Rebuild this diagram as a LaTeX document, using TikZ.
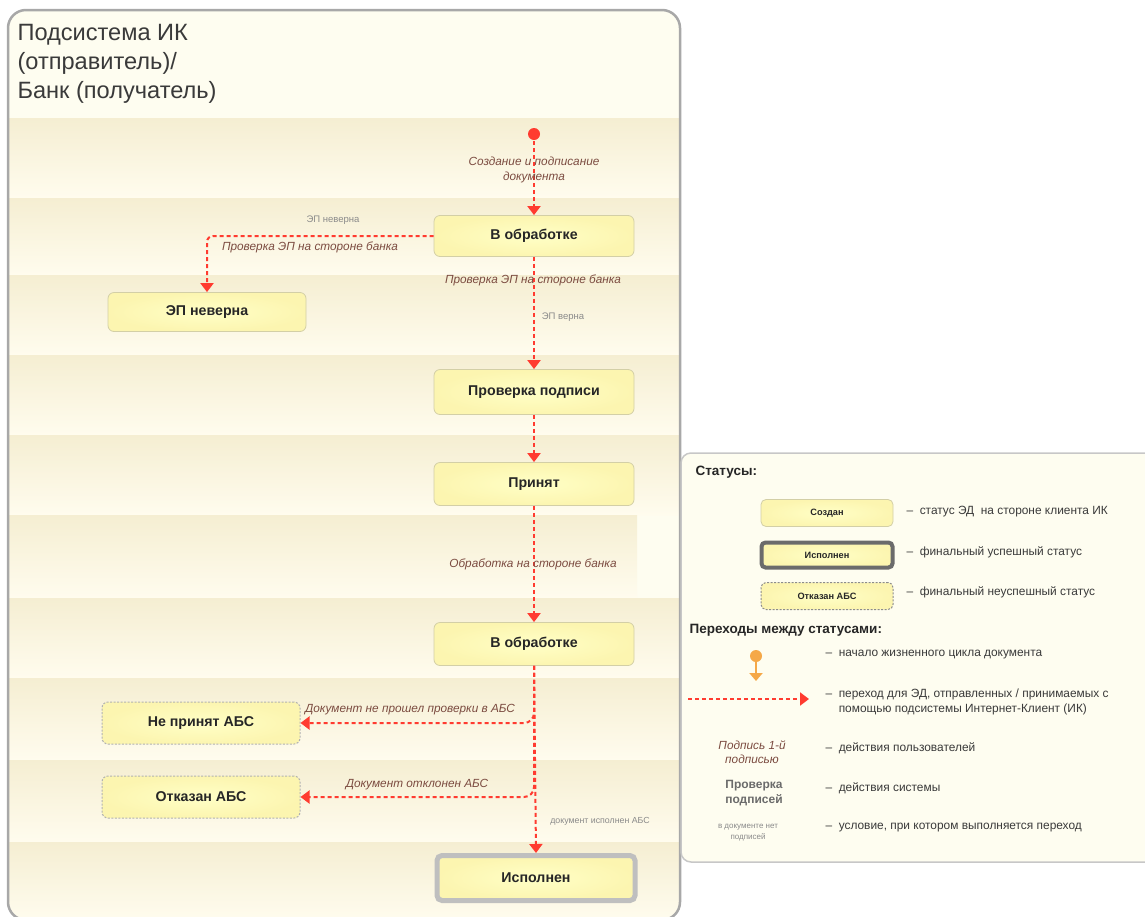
\documentclass[tikz,border=0pt]{standalone}
\usepackage{fontspec}
\setmainfont{Liberation Sans}
\usetikzlibrary{arrows.meta,shadings}
\definecolor{redl}{HTML}{FF3B30}
\definecolor{brownt}{HTML}{7B4B40}
\definecolor{grayt}{HTML}{8A8A8A}
\definecolor{cream}{HTML}{FEFDF0}
\definecolor{bandtop}{HTML}{F5EED2}
\definecolor{bandbot}{HTML}{FFFCEE}
\definecolor{boxin}{HTML}{FFFFC6}
\definecolor{boxout}{HTML}{FCF5B0}
\definecolor{boxdraw}{HTML}{D3CFA6}
\definecolor{frameg}{HTML}{A8A8A8}
\definecolor{textd}{HTML}{3A3A3A}
\definecolor{orangel}{HTML}{F5A848}
\tikzset{
  state/.style={rectangle, rounded corners=6pt, draw=boxdraw, line width=0.8pt,
    inner color=boxin, outer color=boxout, minimum width=200pt, minimum height=41pt,
    font=\bfseries\fontsize{14.2}{16}\selectfont, text=black!85},
  failbox/.style={state, draw=black!30, dash pattern=on 2pt off 1.5pt, line width=1pt},
  finalbox/.style={state, draw=black!25, line width=5pt, minimum width=198pt, minimum height=45pt, rounded corners=5pt},
  lstate/.style={rectangle, rounded corners=5pt, draw=boxdraw, line width=0.8pt,
    inner color=boxin, outer color=boxout, minimum width=132pt, minimum height=27pt,
    font=\bfseries\fontsize{9.2}{11}\selectfont, text=black!85},
  arr/.style={draw=redl, line width=2pt, dash pattern=on 4pt off 3pt,
    -{Triangle[length=9pt,width=13pt]}},
  act/.style={font=\itshape\fontsize{11.8}{14.5}\selectfont, text=brownt, align=center},
  cond/.style={font=\fontsize{9.5}{11}\selectfont, text=grayt, align=center},
  ltext/.style={font=\fontsize{11.9}{15}\selectfont, text=textd, anchor=west, align=left},
}
\begin{document}
\begin{tikzpicture}[x=1pt,y=-1pt]
\useasboundingbox (0,0) rectangle (1145,916);
% main frame
\path[fill=cream, rounded corners=18pt] (8,10) rectangle (680,920);
\begin{scope}
\clip[rounded corners=18pt] (8,10) rectangle (680,920);
\foreach \a/\b/\r in {118/198/680,198/275/680,275/355/680,355/435/680,435/515/680,515/598/637,598/678/680,678/760/680,760/842/680,842/920/680}{
  \shade[top color=bandtop, bottom color=bandbot] (8,\a) rectangle (\r,\b);
}
\end{scope}
\draw[draw=frameg, line width=2.5pt, rounded corners=18pt] (8,10) rectangle (680,920);
\node[anchor=north west, align=left, text=textd, font=\fontsize{23.6}{29}\selectfont] (title) at (14,21)
  {Подсистема ИК\\(отправитель)/\\Банк (получатель)};

% states
\fill[redl] (534,134) circle (6pt);
\coordinate (start) at (534,134);
\node[state] (s1) at (534,236) {В обработке};
\node[state, minimum width=198pt, minimum height=39pt] (bad) at (207,312) {ЭП неверна};
\node[state, minimum height=45pt] (chk) at (534,392) {Проверка подписи};
\node[state, minimum height=43pt] (acc) at (534,484) {Принят};
\node[state, minimum height=43pt] (s2) at (534,644) {В обработке};
\node[failbox, minimum width=198pt, minimum height=42pt] (na) at (201,723) {Не принят АБС};
\node[failbox, minimum width=198pt, minimum height=42pt] (rej) at (201,797) {Отказан АБС};
\node[finalbox] (fin) at (536,878) {Исполнен};

% transitions
\draw[arr] (start) -- (s1.north);
\node[act] (l1) at (534,170) {Создание и подписание\\документа};
\draw[arr, rounded corners=6pt] (s1.west) -| (bad.north);
\node[cond] (c1) at (333,220) {ЭП неверна};
\node[act] (l2) at (310,247) {Проверка ЭП на стороне банка};
\draw[arr] (s1.south) -- (chk.north);
\node[act] (l3) at (533,280) {Проверка ЭП на стороне банка};
\node[cond] (c2) at (563,317) {ЭП верна};
\draw[arr] (chk.south) -- (acc.north);
\draw[arr] (acc.south) -- (s2.north);
\node[act] (l4) at (533,564) {Обработка на стороне банка};
\draw[arr, rounded corners=10pt] (s2.south) |- (na.east);
\node[act] (l5) at (410,710) {Документ не прошел проверки в АБС};
\draw[arr, rounded corners=10pt] (s2.south) |- (rej.east);
\node[act] (l6) at (417,785) {Документ отклонен АБС};
\draw[arr] (s2.south) -- (fin.north);
\node[cond, font=\fontsize{8.8}{10}\selectfont] (c3) at (600,821) {документ исполнен АБС};

% legend
\draw[draw=black!22, fill=cream, line width=1.5pt, rounded corners=10pt] (681,453) rectangle (1160,862);
\node[anchor=west, font=\bfseries\fontsize{13.5}{16}\selectfont, text=black!85] (hs) at (692,472) {Статусы:};
\node[lstate] (lg1) at (827,513) {Создан};
\node[lstate, draw=black!58, line width=4pt, minimum width=131pt, minimum height=25pt, rounded corners=4pt] (lg2) at (827,555) {Исполнен};
\node[lstate, draw=black!45, dash pattern=on 2pt off 1.5pt, line width=1pt] (lg3) at (827,596) {Отказан АБС};
\node[ltext] (d1) at (903,512) {–\ \ статус ЭД\ \ на стороне клиента ИК};
\node[ltext] (d2) at (903,552) {–\ \ финальный успешный статус};
\node[ltext] (d3) at (903,592) {–\ \ финальный неуспешный статус};
\node[anchor=west, font=\bfseries\fontsize{13.5}{16}\selectfont, text=black!85] (ht) at (686,630) {Переходы между статусами:};

\fill[orangel] (756,656) circle (6pt);
\coordinate (os) at (756,656);
\coordinate (oe) at (756,681);
\draw[draw=orangel, line width=2pt, -{Triangle[length=8pt,width=13pt]}] (os) -- (oe);
\coordinate (rs) at (688,699);
\coordinate (re) at (809,699);
\draw[arr] (rs) -- (re);

\node[act] (la) at (752,752) {Подпись 1-й\\подписью};
\node[font=\bfseries\fontsize{12}{15}\selectfont, text=black!58, align=center] (lb) at (754,793) {Проверка\\подписей};
\node[cond, font=\fontsize{8}{11}\selectfont] (lc) at (748,833) {в документе нет\\подписей};

\node[ltext] (e1) at (822,655) {–\ \ начало жизненного цикла документа};
\node[ltext] (e2) at (822,702) {–\ \ переход для ЭД, отправленных / принимаемых с\\\phantom{–\ \ }помощью подсистемы Интернет-Клиент (ИК)};
\node[ltext] (e3) at (822,748) {–\ \ действия пользователей};
\node[ltext] (e4) at (822,788) {–\ \ действия системы};
\node[ltext] (e5) at (822,828) {–\ \ условие, при котором выполняется переход};
\end{tikzpicture}
\end{document}
